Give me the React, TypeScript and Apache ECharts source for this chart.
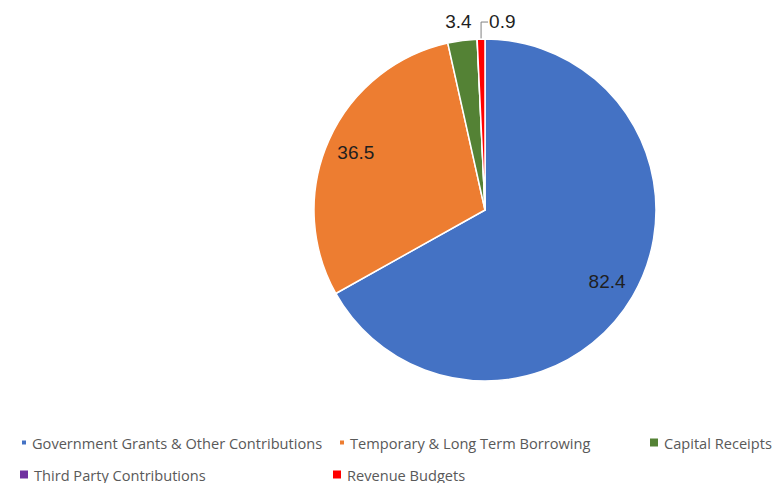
import React, { useEffect, useRef } from "react";
import * as echarts from "echarts";

const categories = [
  "Government Grants & Other Contributions",
  "Temporary & Long Term Borrowing",
  "Capital Receipts",
  "Third Party Contributions",
  "Revenue Budgets",
];
const values = [82.4, 36.5, 3.4, 0, 0.9];
const colors = ["#4472C4", "#ED7D31", "#548235", "#7030A0", "#FF0000"];

export default function App() {
  const ref = useRef<HTMLDivElement>(null);
  useEffect(() => {
    document.body.style.margin = "0";
    const chart = echarts.init(ref.current!, null, { renderer: "svg" });
    const legendFont = { fontFamily: "Open Sans", fontSize: 14.6, color: "#595959" };
    const legendPlaces = [
      { left: 20, top: 435, size: 6 },
      { left: 338, top: 435, size: 6 },
      { left: 648, top: 435, size: 10 },
      { left: 18, top: 467, size: 10 },
      { left: 331, top: 467, size: 10 },
    ];
    const legends = categories.map((name, i) => ({
      show: true,
      left: legendPlaces[i].left,
      top: legendPlaces[i].top,
      padding: 0,
      itemWidth: legendPlaces[i].size,
      itemHeight: legendPlaces[i].size,
      itemGap: 0,
      icon: "rect",
      selectedMode: false,
      textStyle: legendFont,
      data: [{ name, itemStyle: { color: colors[i] } }],
    }));
    const labelFont = { fontFamily: "Liberation Sans", fontSize: 19, color: "#1f1f1f" };
    chart.setOption({
      animation: false,
      backgroundColor: "#ffffff",
      legend: legends,
      series: [
        {
          type: "pie",
          center: [485, 210],
          radius: 171,
          startAngle: 90,
          clockwise: true,
          avoidLabelOverlap: false,
          silent: true,
          itemStyle: { borderColor: "#ffffff", borderWidth: 1.5 },
          label: { show: true, position: "outside", formatter: "{c}", ...labelFont },
          labelLine: { show: true, length: 17, length2: 8, lineStyle: { color: "#808080", width: 1 } },
          labelLayout: (params: any) => {
            const p = params.labelLinePoints;
            if (!p) return {};
            const x0 = p[0][0];
            const y0 = p[0][1];
            if (params.dataIndex === 2) {
              return { x: x0 - 4, y: y0 - 19, align: "center", verticalAlign: "middle" };
            }
            if (params.dataIndex === 4) {
              return {
                x: x0 + 8,
                y: y0 - 18,
                align: "left",
                verticalAlign: "middle",
                labelLinePoints: [
                  [x0, y0],
                  [x0, y0 - 17],
                  [x0 + 7, y0 - 17],
                ],
              };
            }
            return {};
          },
          data: categories.map((name, i) => ({
            name,
            value: values[i],
            itemStyle: { color: colors[i] },
            label: { show: i === 2 || i === 4 },
            labelLine:
              i === 4
                ? { show: true }
                : i === 2
                ? { show: true, lineStyle: { opacity: 0 } }
                : { show: false },
          })),
        },
        {
          type: "pie",
          center: [485, 210],
          radius: [106, 171],
          startAngle: 90,
          clockwise: true,
          silent: true,
          z: 5,
          itemStyle: { color: "transparent", borderWidth: 0 },
          label: { show: true, position: "inside", formatter: "{c}", ...labelFont },
          labelLine: { show: false },
          data: categories.map((name, i) => ({
            name,
            value: values[i],
            label: { show: i < 2 },
          })),
        },
      ],
    });
    return () => chart.dispose();
  }, []);
  return <div ref={ref} style={{ width: 773, height: 483 }} />;
}
